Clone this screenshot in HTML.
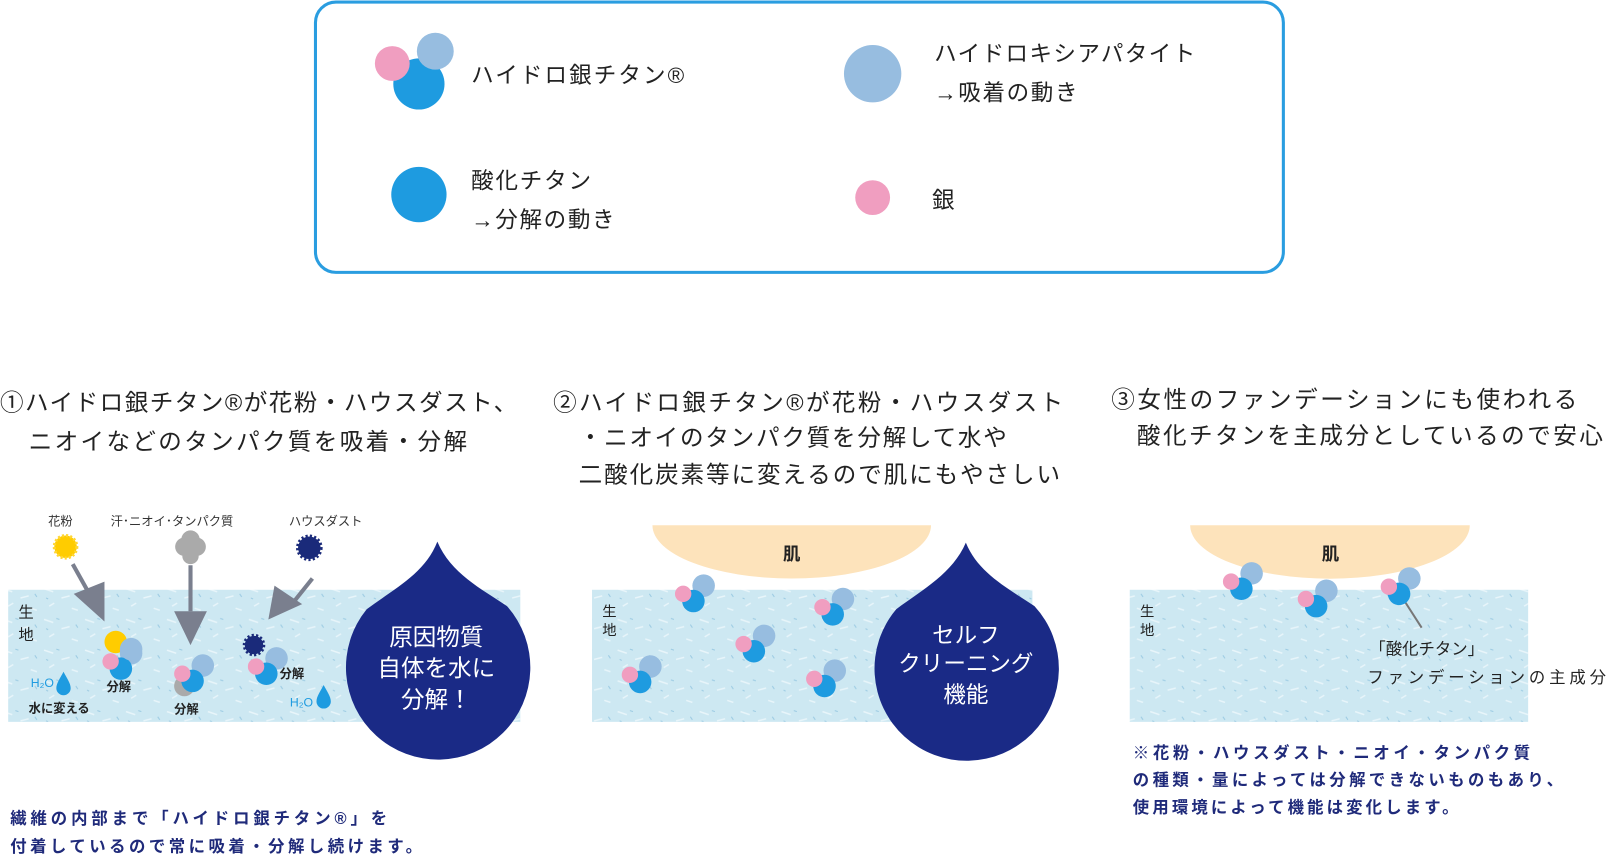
<!DOCTYPE html>
<html><head><meta charset="utf-8"><style>
html,body{margin:0;padding:0;background:#fff;}
svg{display:block;}
text{font-family:"Liberation Sans","Noto Sans CJK JP",sans-serif;}
</style></head><body>
<svg width="1606" height="856" viewBox="0 0 1568 836" preserveAspectRatio="none" xmlns="http://www.w3.org/2000/svg">
<defs>
<g id="mol"><circle cx="10" cy="-12" r="11" fill="#97bde0"/><circle cx="0" cy="3" r="11" fill="#1e9be0"/><circle cx="-10" cy="-4" r="8" fill="#f09ec0"/></g>
<path id="drop" d="M0 0 C-3 6 -7 11 -7 16 a7 7 0 0 0 14 0 C7 11 3 6 0 0Z" fill="#1e9be0"/>
<pattern id="tex" width="40" height="30" patternUnits="userSpaceOnUse">
<rect width="40" height="30" fill="#cde8f2"/>
<path d="M3 5l9 3M20 14l8-2M30 24l6 2M8 22l5-3" stroke="#e8f5fa" stroke-width="1.5"/>
<path d="M15 4l3 1M34 10l2 3M5 14l2 1" stroke="#9ccbe3" stroke-width="1"/>
</pattern>
</defs>
<!-- legend -->
<rect x="308" y="2" width="945" height="264" rx="20" fill="#fff" stroke="#2a9de0" stroke-width="3"/>
<circle cx="409" cy="82" r="25" fill="#1e9be0"/>
<circle cx="425" cy="50" r="18" fill="#97bde0"/>
<circle cx="383" cy="62" r="17" fill="#f09ec0"/>
<text x="460" y="81" font-size="22" fill="#222" textLength="208">ハイドロ銀チタン®</text>
<circle cx="852" cy="72" r="28" fill="#97bde0"/>
<text x="912" y="60" font-size="22" fill="#222" textLength="255">ハイドロキシアパタイト</text>
<text x="912" y="98" font-size="22" fill="#222" textLength="140">→吸着の動き</text>
<circle cx="409" cy="190" r="27" fill="#1e9be0"/>
<text x="460" y="184" font-size="22" fill="#222" textLength="117">酸化チタン</text>
<text x="460" y="222" font-size="22" fill="#222" textLength="140">→分解の動き</text>
<circle cx="852" cy="193" r="17" fill="#f09ec0"/>
<text x="910" y="203" font-size="22" fill="#222">銀</text>
<!-- titles -->
<g font-size="23" fill="#222">
<text x="0" y="401" textLength="505">①ハイドロ銀チタン®が花粉・ハウスダスト、</text>
<text x="28" y="439" textLength="428">ニオイなどのタンパク質を吸着・分解</text>
<text x="540" y="401" textLength="498">②ハイドロ銀チタン®が花粉・ハウスダスト</text>
<text x="565" y="435" textLength="418">・ニオイのタンパク質を分解して水や</text>
<text x="565" y="471" textLength="470">二酸化炭素等に変えるので肌にもやさしい</text>
<text x="1085" y="398" textLength="455">③女性のファンデーションにも使われる</text>
<text x="1110" y="433" textLength="455">酸化チタンを主成分としているので安心</text>
</g>
<!-- panel 1 -->
<rect x="8" y="576" width="500" height="129" fill="url(#tex)"/>
<text x="18" y="603" font-size="15" fill="#222">生</text>
<text x="18" y="625" font-size="15" fill="#222">地</text>
<g font-size="12" fill="#333">
<text x="47" y="513">花粉</text>
<text x="108" y="513">汗･ニオイ･タンパク質</text>
<text x="282" y="513">ハウスダスト</text>
</g>
<circle cx="64" cy="534" r="11" fill="#ffcc00" stroke="#ffd633" stroke-width="3" stroke-dasharray="2 2"/>
<g fill="#aaa"><circle cx="180" cy="534" r="9"/><circle cx="192" cy="534" r="9"/><circle cx="186" cy="527" r="9"/><circle cx="186" cy="543" r="8"/></g>
<circle cx="302" cy="535" r="11" fill="#1a2a7a" stroke="#1a2a7a" stroke-width="4" stroke-dasharray="2 2"/>
<g stroke="#7a7f8e" stroke-width="4" fill="#7a7f8e">
<line x1="71" y1="551" x2="90" y2="585"/>
<polygon points="72,580 102,568 102,607" stroke="none"/>
<line x1="186" y1="552" x2="186" y2="597"/>
<polygon points="170,597 202,597 186,630" stroke="none"/>
<line x1="305" y1="565" x2="285" y2="590"/>
<polygon points="262,605 268,572 295,590" stroke="none"/>
</g>
<circle cx="113" cy="627" r="11" fill="#ffcc00"/>
<use href="#mol" x="118" y="650"/>
<circle cx="128" cy="634" r="11" fill="#97bde0"/>
<text x="104" y="675" font-size="12" font-weight="bold" fill="#222">分解</text>
<circle cx="180" cy="670" r="10" fill="#aaa"/>
<use href="#mol" x="188" y="662"/>
<text x="170" y="697" font-size="12" font-weight="bold" fill="#222">分解</text>
<circle cx="248" cy="630" r="9" fill="#1a2a7a" stroke="#1a2a7a" stroke-width="4" stroke-dasharray="2 2"/>
<use href="#mol" x="260" y="655"/>
<text x="273" y="662" font-size="12" font-weight="bold" fill="#222">分解</text>
<text x="30" y="671" font-size="12" fill="#1e9be0">H₂O</text>
<use href="#drop" x="62" y="656"/>
<text x="28" y="696" font-size="12" font-weight="bold" fill="#222">水に変える</text>
<text x="283" y="690" font-size="12" fill="#1e9be0">H₂O</text>
<use href="#drop" x="316" y="669"/>
<path d="M427 529 C440 560 470 575 495 592 A90 90 0 1 1 358 595 C385 575 415 560 427 529Z" fill="#1a2a86"/>
<g font-size="23" fill="#fff" text-anchor="middle"><text x="426" y="630">原因物質</text><text x="426" y="660">自体を水に</text><text x="426" y="691">分解！</text></g>
<!-- panel 2 -->
<rect x="578" y="576" width="430" height="129" fill="url(#tex)"/>
<path d="M637 513 L909 513 A136 52 0 0 1 637 513Z" fill="#fde3bb"/>
<text x="773" y="547" font-size="17" font-weight="bold" fill="#222" text-anchor="middle">肌</text>
<text x="588" y="602" font-size="14" fill="#222">生</text>
<text x="588" y="620" font-size="14" fill="#222">地</text>
<use href="#mol" x="677" y="584"/><use href="#mol" x="813" y="597"/><use href="#mol" x="736" y="633"/><use href="#mol" x="625" y="663"/><use href="#mol" x="805" y="667"/>
<path d="M943 530 C955 560 985 575 1010 592 A90 90 0 1 1 875 595 C902 575 930 560 943 530Z" fill="#1a2a86"/>
<g font-size="22" fill="#fff" text-anchor="middle"><text x="943" y="628">セルフ</text><text x="943" y="656">クリーニング</text><text x="943" y="686">機能</text></g>
<!-- panel 3 -->
<rect x="1103" y="576" width="389" height="129" fill="url(#tex)"/>
<path d="M1162 513 L1435 513 A136 52 0 0 1 1162 513Z" fill="#fde3bb"/>
<text x="1299" y="547" font-size="17" font-weight="bold" fill="#222" text-anchor="middle">肌</text>
<text x="1113" y="602" font-size="14" fill="#222">生</text>
<text x="1113" y="620" font-size="14" fill="#222">地</text>
<line x1="1370" y1="585" x2="1388" y2="613" stroke="#777" stroke-width="2"/>
<use href="#mol" x="1212" y="572"/><use href="#mol" x="1285" y="589"/><use href="#mol" x="1366" y="577"/>
<text x="1337" y="639" font-size="16" fill="#222">「酸化チタン」</text>
<text x="1335" y="667" font-size="16" fill="#222" textLength="233">ファンデーションの主成分</text>
<g font-size="16" fill="#1f2a7a" font-weight="bold">
<text x="1106" y="741" textLength="388">※花粉・ハウスダスト・ニオイ・タンパク質</text>
<text x="1106" y="767" textLength="420">の種類・量によっては分解できないものもあり、</text>
<text x="1106" y="794" textLength="318">使用環境によって機能は変化します。</text>
<text x="10" y="805" textLength="368">繊維の内部まで「ハイドロ銀チタン®」を</text>
<text x="10" y="832" textLength="402">付着しているので常に吸着・分解し続けます。</text>
</g>
</svg>
</body></html>
